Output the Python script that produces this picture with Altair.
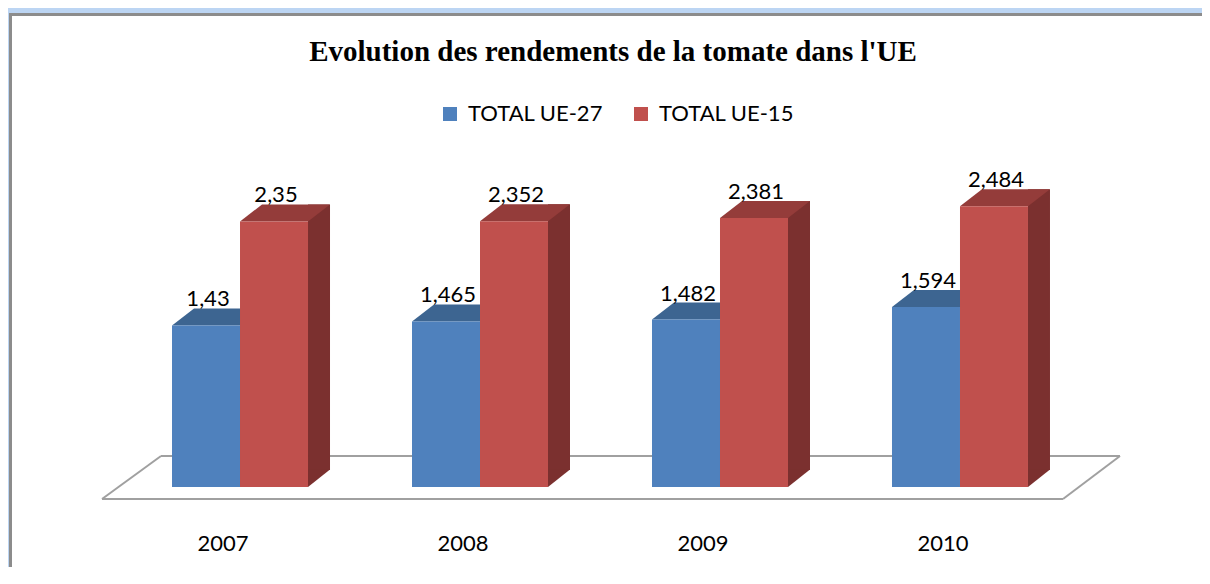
import altair as alt
import pandas as pd

TITLE = "Evolution des rendements de la tomate dans l'UE"
YEARS = ["2007", "2008", "2009", "2010"]
SERIES = ["TOTAL UE-27", "TOTAL UE-15"]
UE27 = [1.43, 1.465, 1.482, 1.594]
UE15 = [2.35, 2.352, 2.381, 2.484]

FRONT_COLORS = ["#4F81BD", "#C0504D"]
TOP_COLORS = ["#3D6591", "#943C3A"]
SIDE_COLORS = ["#36597F", "#7B302F"]

rows = []
for s, vals in zip(SERIES, [UE27, UE15]):
    for y, v in zip(YEARS, vals):
        rows.append({"year": y, "series": s, "value": v, "zero": 0,
                     "label": f"{v:g}".replace(".", ",")})
df = pd.DataFrame(rows)

DX, DY, HALF = 22, 17, 34
TOP_PATH = f"M{-HALF},0L{-HALF+DX},{-DY}L{HALF+DX},{-DY}L{HALF},0Z"
TRI_PATH = f"M{HALF},{-DY - 0.5}L{HALF+DX},{-DY - 0.5}L{HALF},0Z"

# floor outline (plot-area pixels)
FLOOR = [(-18, 351), (41, 308), (1000, 308), (943, 351)]

one = alt.Data(values=[{"title": TITLE}])

frame = alt.Chart(one).mark_rect(fill="white", stroke="#8C8C8C", strokeWidth=3).encode(
    x=alt.value(-109.5), x2=alt.value(1120), y=alt.value(-133.5), y2=alt.value(520)
)

title = alt.Chart(one).mark_text(font="Liberation Serif", fontSize=29, fontWeight="bold",
                                 color="black", align="center", baseline="alphabetic").encode(
    x=alt.value(493), y=alt.value(-87), text="title:N"
)

layers = [frame, title]
for (xa, ya), (xb, yb) in zip(FLOOR, FLOOR[1:] + FLOOR[:1]):
    layers.append(
        alt.Chart(one).mark_rule(color="#A0A0A0", strokeWidth=2).encode(
            x=alt.value(xa), y=alt.value(ya), x2=alt.value(xb), y2=alt.value(yb))
    )

xenc = alt.X("year:N", sort=YEARS,
             scale=alt.Scale(paddingInner=0.4333, paddingOuter=0.2167),
             axis=alt.Axis(title=None, domain=False, ticks=False, labelAngle=0,
                           labelFont="Lato", labelFontSize=22, labelColor="black",
                           labelPadding=46, labelOffset=-17, zindex=1))
yscale = alt.Scale(domain=[0, 3], nice=False)
yenc = alt.Y("value:Q", scale=yscale, axis=None)

for i, s in enumerate(SERIES):
    off = -HALF if i == 0 else HALF
    base = alt.Chart(df).transform_filter(alt.datum.series == s).encode(x=xenc, y=yenc)
    side = base.mark_bar(width=DX, xOffset=off + HALF + DX / 2, yOffset=-DY,
                         color=SIDE_COLORS[i])
    tri = base.mark_point(shape=TRI_PATH, size=4, filled=True, color=SIDE_COLORS[i],
                          opacity=1, strokeWidth=0, xOffset=off).encode(
        y=alt.Y("zero:Q", scale=yscale, axis=None))
    top = base.mark_point(shape=TOP_PATH, size=4, filled=True, opacity=1,
                          strokeWidth=0, color=TOP_COLORS[i], xOffset=off)
    front = base.mark_bar(width=2 * HALF, xOffset=off).encode(
        color=alt.Color("series:N", scale=alt.Scale(domain=SERIES, range=FRONT_COLORS),
                        legend=alt.Legend(title=None, orient="none", legendX=319, legendY=-45,
                                          direction="horizontal", symbolType="square",
                                          symbolSize=196, labelFont="Lato", labelFontSize=22,
                                          labelColor="black", columnPadding=26, labelOffset=7,
                                          zindex=1)))
    labels = base.mark_text(font="Lato", fontSize=22, dy=-19, xOffset=off + 2,
                            baseline="alphabetic", color="black").encode(text="label:N")
    layers += [side, tri, top, front, labels]

chart = alt.layer(*layers).properties(
    width=960, height=339,
    autosize=alt.AutoSizeParams(type="none"),
    padding={"left": 112, "top": 140, "right": 122, "bottom": 80},
    background="#BCD5F3",
).configure_view(strokeWidth=0)

chart.save("out.html", embed_options={"renderer": "svg", "actions": False})
